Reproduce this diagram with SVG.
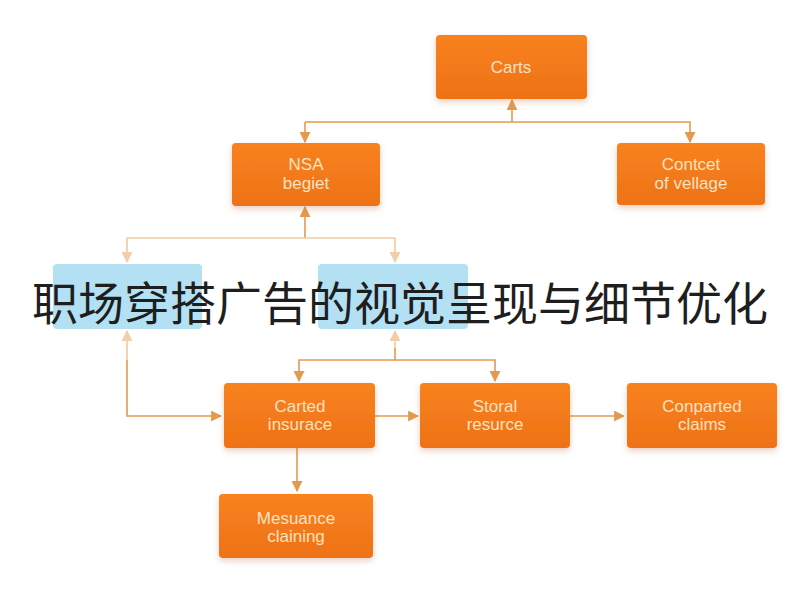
<svg xmlns="http://www.w3.org/2000/svg" width="800" height="600" viewBox="0 0 800 600">
<defs>
<linearGradient id="og" x1="0" y1="0" x2="0" y2="1">
<stop offset="0" stop-color="#F8821F"/>
<stop offset="1" stop-color="#EE7216"/>
</linearGradient>
<filter id="sh" x="-20%" y="-20%" width="140%" height="150%">
<feDropShadow dx="0" dy="3" stdDeviation="3" flood-color="#C0602A" flood-opacity="0.3"/>
</filter>
<marker id="ah" viewBox="0 0 10 10" refX="9" refY="5" markerWidth="11" markerHeight="11" markerUnits="userSpaceOnUse" orient="auto">
<path d="M0,0 L10,5 L0,10 z" fill="#E39A4E"/>
</marker>
<marker id="ahl" viewBox="0 0 10 10" refX="9" refY="5" markerWidth="11" markerHeight="11" markerUnits="userSpaceOnUse" orient="auto">
<path d="M0,0 L10,5 L0,10 z" fill="#F2CFA8"/>
</marker>
</defs>
<style>
.node rect.o{fill:url(#og);filter:url(#sh);}
.node rect.b{fill:#B4E0F4;}
.lbl{font-family:"Liberation Sans","DejaVu Sans",sans-serif;font-size:17px;fill:#FCE2C2;text-anchor:middle;}
.c{fill:none;stroke:#E39A4E;stroke-width:1.6;}
.cl{fill:none;stroke:#F0CBA2;stroke-width:1.6;}
.title{font-family:"Noto Sans CJK SC","Noto Sans",sans-serif;font-size:46px;fill:#1E1E1E;text-anchor:middle;}
</style>
<rect width="800" height="600" fill="#FFFFFF"/>
<g id="connectors">
<path class="c" d="M305,122 H690 V142" marker-end="url(#ah)"/>
<path class="c" d="M512,122 V100" marker-end="url(#ah)"/>
<path class="c" d="M305,122 V142" marker-end="url(#ah)"/>
<path class="c" d="M305,238 V207" marker-end="url(#ah)"/>
<path class="cl" d="M127,238 H395"/>
<path class="cl" d="M127,238 V262" marker-end="url(#ahl)"/>
<path class="cl" d="M395,238 V262" marker-end="url(#ahl)"/>
<path class="cl" d="M127,360 V331" marker-end="url(#ahl)"/>
<path class="c" d="M127,360 V416 H221" marker-end="url(#ah)"/>
<path class="cl" d="M395,348 V331" marker-end="url(#ahl)"/>
<path class="c" d="M395,348 V360 H299 V381" marker-end="url(#ah)"/>
<path class="c" d="M395,360 H495 V381" marker-end="url(#ah)"/>
<path class="c" d="M375,416 H418" marker-end="url(#ah)"/>
<path class="c" d="M570,416 H624" marker-end="url(#ah)"/>
<path class="c" d="M297,448 V491" marker-end="url(#ah)"/>
</g>
<g id="carts" class="node"><rect class="o" x="436" y="35" width="151" height="64" rx="4"/><text class="lbl" x="511" y="73">Carts</text></g>
<g id="contcet" class="node"><rect class="o" x="617" y="143" width="148" height="62" rx="4"/><text class="lbl" x="691" y="170">Contcet</text><text class="lbl" x="691" y="189">of vellage</text></g>
<g id="nsa" class="node"><rect class="o" x="232" y="143" width="148" height="63" rx="4"/><text class="lbl" x="306" y="170">NSA</text><text class="lbl" x="306" y="189">begiet</text></g>
<g id="blue-left" class="node"><rect class="b" x="53" y="264" width="149" height="65" rx="4"/></g>
<g id="blue-right" class="node"><rect class="b" x="318" y="264" width="150" height="65" rx="4"/></g>
<g id="carted" class="node"><rect class="o" x="224" y="383" width="151" height="65" rx="4"/><text class="lbl" x="300" y="412">Carted</text><text class="lbl" x="300" y="430">insurace</text></g>
<g id="storal" class="node"><rect class="o" x="420" y="383" width="150" height="65" rx="4"/><text class="lbl" x="495" y="412">Storal</text><text class="lbl" x="495" y="430">resurce</text></g>
<g id="conparted" class="node"><rect class="o" x="627" y="383" width="150" height="65" rx="4"/><text class="lbl" x="702" y="412">Conparted</text><text class="lbl" x="702" y="430">claims</text></g>
<g id="mesuance" class="node"><rect class="o" x="219" y="494" width="154" height="64" rx="4"/><text class="lbl" x="296" y="524">Mesuance</text><text class="lbl" x="296" y="542">claining</text></g>
<text class="title" x="400" y="320">职场穿搭广告的视觉呈现与细节优化</text>
</svg>
